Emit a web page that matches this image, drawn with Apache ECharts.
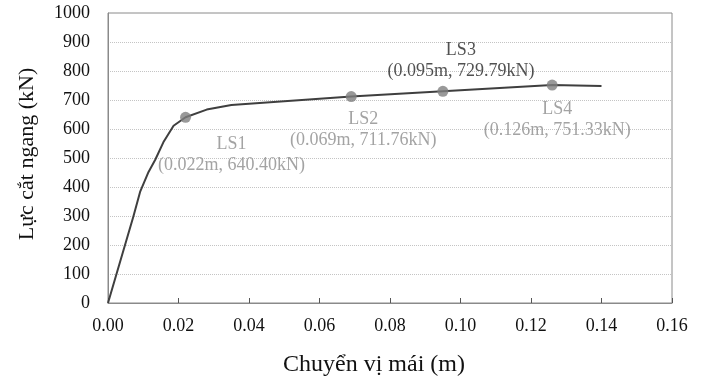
<!DOCTYPE html>
<html>
<head>
<meta charset="utf-8">
<script src="https://cdn.jsdelivr.net/npm/echarts@6/dist/echarts.min.js"></script>
<style>html,body{margin:0;padding:0;background:#fff}#c{width:703px;height:382px}</style>
</head>
<body>
<div id="c"></div>
<script>
// Pushover curve (roof displacement m, base shear kN)
const curveX = [0, 0.0072, 0.0091, 0.0115, 0.0134, 0.0157, 0.0186, 0.022, 0.028, 0.035, 0.069, 0.095, 0.126, 0.14];
const curveY = [0, 298, 383, 452, 494, 554, 611, 640.4, 667, 683, 711.76, 729.79, 751.33, 748];
// Limit states
const lsNames = ['LS1', 'LS2', 'LS3', 'LS4'];
const lsX = [0.022, 0.069, 0.095, 0.126];
const lsY = [640.40, 711.76, 729.79, 751.33];
const xTicks = [0, 0.02, 0.04, 0.06, 0.08, 0.10, 0.12, 0.14, 0.16];
const yTicks = [0, 100, 200, 300, 400, 500, 600, 700, 800, 900, 1000];
const xTitle = 'Chuyển vị mái (m)';
const yTitle = 'Lực cắt ngang (kN)';

const FONT = '"Liberation Serif", "DejaVu Serif", serif';
const labelOffsets = [[46, 37], [12, 33], [18, -31], [5, 35]];
const labelColors = ['#8c8c8c', '#8c8c8c', '#262626', '#8c8c8c'];

const chart = echarts.init(document.getElementById('c'));
chart.setOption({
  animation: false,
  backgroundColor: '#fff',
  grid: { left: 108, right: 31, top: 13, bottom: 76, show: true, borderColor: '#8a8a8a', borderWidth: 1 },
  xAxis: {
    type: 'value', min: xTicks[0], max: xTicks[xTicks.length - 1], interval: 0.02,
    name: xTitle, nameLocation: 'middle', nameGap: 50,
    nameTextStyle: { fontFamily: FONT, fontSize: 24, color: '#111', padding: [0, 32, 0, 0] },
    axisLine: { show: true, lineStyle: { color: '#8a8a8a', width: 1 } },
    axisTick: { show: true, inside: true, length: 5, lineStyle: { color: '#555' } },
    axisLabel: { fontFamily: FONT, fontSize: 18, color: '#111', margin: 14, formatter: v => v.toFixed(2) },
    splitLine: { show: false }
  },
  yAxis: {
    type: 'value', min: yTicks[0], max: yTicks[yTicks.length - 1], interval: 100,
    name: yTitle, nameLocation: 'middle', nameGap: 70, nameRotate: 90,
    nameTextStyle: { fontFamily: FONT, fontSize: 22, color: '#111', padding: [0, 0, 0, 8] },
    axisLine: { show: true, lineStyle: { color: '#8a8a8a', width: 1 } },
    axisTick: { show: false },
    axisLabel: { fontFamily: FONT, fontSize: 18, color: '#111', margin: 18, formatter: v => String(v) },
    splitLine: { show: true, lineStyle: { color: '#c4c4c4', type: [1, 1], width: 1 } }
  },
  series: [
    {
      type: 'line',
      data: curveX.map((x, i) => [x, curveY[i]]),
      showSymbol: false,
      smooth: false,
      lineStyle: { color: '#3f3f3f', width: 2 },
      z: 2
    },
    {
      type: 'scatter',
      data: lsX.map((x, i) => ({
        value: [x, lsY[i]],
        label: {
          show: true,
          position: 'inside',
          offset: labelOffsets[i],
          color: labelColors[i],
          formatter: () => lsNames[i] + '\n(' + lsX[i].toFixed(3) + 'm, ' + lsY[i].toFixed(2) + 'kN)'
        }
      })),
      symbol: 'circle',
      symbolSize: 11,
      itemStyle: { color: '#7f7f7f' },
      label: { fontFamily: FONT, fontSize: 18, lineHeight: 21, align: 'center', verticalAlign: 'middle' },
      z: 3
    }
  ]
});
</script>
</body>
</html>
